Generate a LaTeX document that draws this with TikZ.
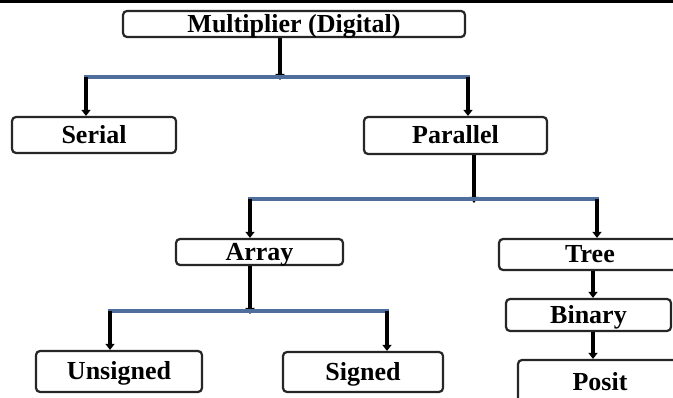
\documentclass[tikz,border=0pt]{standalone}
\usepackage{fontspec}
\setmainfont{Liberation Serif}
\usetikzlibrary{arrows.meta}
\definecolor{busblue}{HTML}{4F6E9C}
\tikzset{
  box/.style={draw=black!85, line width=2.2pt, rounded corners=4pt, inner sep=0pt,
    text height=17pt, text depth=0pt,
    font=\bfseries\fontsize{26}{26}\selectfont, fill=white},
  arr/.style={line width=3.6pt, black, -{Triangle[width=9pt,length=6pt]}},
  bus/.style={line width=3.6pt, busblue, line cap=rect}
}
\begin{document}
\begin{tikzpicture}[x=1pt,y=-1pt]
\useasboundingbox (0,0) rectangle (673,398);
\clip (0,0) rectangle (673,398);
\fill[white] (0,0) rectangle (673,398);
\draw[line width=3.5pt] (0,1.5) -- (673,1.5);

\node[box, minimum width=342pt, minimum height=26pt] (mult) at (294,24) {Multiplier (Digital)};
\node[box, minimum width=164pt, minimum height=36pt] (serial) at (94,135) {Serial};
\node[box, minimum width=183pt, minimum height=37pt] (par) at (455.5,135.5) {Parallel};
\node[box, minimum width=167pt, minimum height=26pt] (array) at (259.5,252) {Array};
\node[box, minimum width=182pt, minimum height=31pt] (tree) at (590,254.5) {Tree};
\node[box, minimum width=165pt, minimum height=32pt] (bin) at (588.5,315) {Binary};
\node[box, minimum width=164pt, minimum height=44pt] (posit) at (600,382) {Posit};
\node[box, minimum width=166pt, minimum height=41pt] (uns) at (119,371.5) {Unsigned};
\node[box, minimum width=160pt, minimum height=40pt] (sig) at (363,372) {Signed};

% level 1
\coordinate (b1) at (280,77);
\coordinate (b1l) at (86,77);
\coordinate (b1r) at (468,77);
\draw[arr] (mult.south -| b1) -- ([yshift=-3pt]b1);
\draw[bus] (b1l) -- (b1r);
\draw[arr] (b1l) -- (serial.north -| b1l);
\draw[arr] (b1r) -- (par.north -| b1r);

% level 2
\coordinate (b2) at (474,199);
\coordinate (b2l) at (250,199);
\coordinate (b2r) at (597,199);
\draw[arr] (par.south -| b2) -- ([yshift=-4pt]b2);
\draw[bus] (b2l) -- (b2r);
\draw[arr] (b2l) -- (array.north -| b2l);
\draw[arr] (b2r) -- (tree.north -| b2r);

% level 3
\coordinate (b3) at (250,311);
\coordinate (b3l) at (110,311);
\coordinate (b3r) at (387,311);
\draw[arr] (array.south -| b3) -- ([yshift=-3pt]b3);
\draw[bus] (b3l) -- (b3r);
\draw[arr] (b3l) -- (uns.north -| b3l);
\draw[arr] (b3r) -- (sig.north -| b3r);

% tree chain
\coordinate (t) at (593,0);
\draw[arr] (tree.south -| t) -- (bin.north -| t);
\draw[arr] (bin.south -| t) -- (posit.north -| t);
\end{tikzpicture}
\end{document}
